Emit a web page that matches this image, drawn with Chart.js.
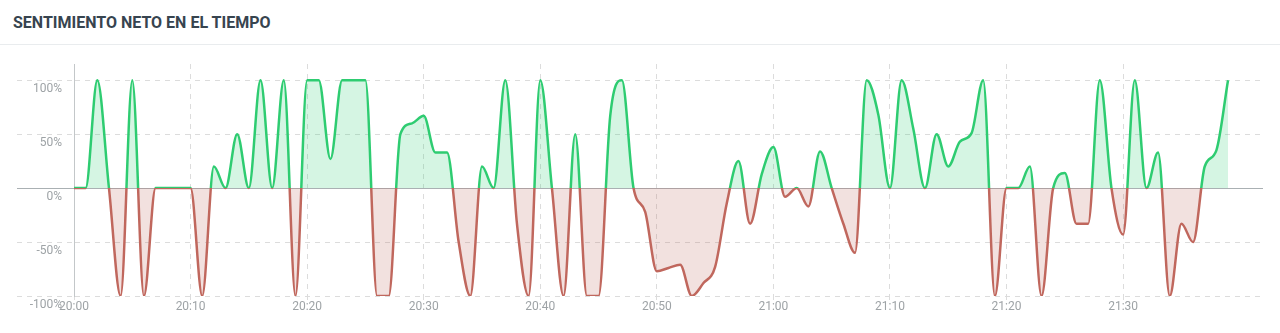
<!DOCTYPE html>
<html lang="es">
<head>
<meta charset="utf-8">
<title>Sentimiento neto en el tiempo</title>
<script src="https://cdn.jsdelivr.net/npm/chart.js@4"></script>
<style>
  html, body { margin: 0; padding: 0; background: #fff; }
  body { width: 1280px; height: 333px; overflow: hidden; position: relative; font-family: Roboto, sans-serif; }
  .cabecera {
    height: 44px; border-bottom: 1px solid #e9ecee; box-sizing: content-box;
    padding-left: 13px; display: flex; align-items: center;
  }
  .cabecera h2 { margin: 0; font-size: 16px; font-weight: 700; color: #37444f; letter-spacing: 0; }
  .lienzo { position: absolute; left: 0; top: 45px; width: 1280px; height: 288px; }
</style>
</head>
<body>
<div class="cabecera"><h2>SENTIMIENTO NETO EN EL TIEMPO</h2></div>
<div class="lienzo"><canvas id="Grafico"></canvas></div>
<script>
//Hora de inicio de la serie (un valor por minuto)
const horaInicio = '20:00';

//Sentimiento neto por minuto, en %
const sentimiento = [
  0, 0, 100, 0, -100, 100, -100, 0, 0, 0,
  0, -100, 20, 0, 50, 0, 100, 0, 100, -100,
  100, 100, 27, 100, 100, 100, -100, -100, 50, 60,
  67, 33, 33, -50, -100, 20, 0, 100, -33, -100,
  100, 0, -100, 50, -100, -100, 67, 100, 0, -22,
  -77, -74, -71, -100, -88, -73, -14, 25, -33, 13,
  38, -8, 0, -17, 34, 0, -33, -60, 100, 68,
  0, 100, 55, 0, 50, 20, 43, 51, 100, -100,
  0, 0, 20, -100, 0, 14, -33, -33, 100, 0,
  -43, 100, 0, 33, -100, -33, -50, 20, 35, 100
];

//Etiquetas del eje X y del eje Y
const etiquetasX = ['20:00', '20:10', '20:20', '20:30', '20:40', '20:50', '21:00', '21:10', '21:20', '21:30'];
const etiquetasY = [-100, -50, 0, 50, 100];
const finEje = '21:42';

//Colores
const verde = '#2ecc71';
const rojo = '#c0675d';
const verdeClaro = 'rgba(46, 204, 113, 0.2)';
const rojoClaro = 'rgba(192, 103, 93, 0.2)';
const gris = '#aab0b3';
const grisClaro = '#dcdcdc';

//Pasar "hh:mm" a minutos desde la hora de inicio
function minutos(hora) {
  const [h, m] = hora.split(':').map(Number);
  const [h0, m0] = horaInicio.split(':').map(Number);
  return (h - h0) * 60 + (m - m0);
}

function hora(min) {
  const [h0, m0] = horaInicio.split(':').map(Number);
  const total = h0 * 60 + m0 + min;
  return Math.floor(total / 60) + ':' + String(total % 60).padStart(2, '0');
}

const puntos = sentimiento.map((v, i) => ({ x: i, y: v }));

//Color de la línea: verde arriba del cero, rojo abajo
function colorLinea(ctx) {
  const chart = ctx.chart;
  const area = chart.chartArea;
  if (!area) return verde;
  const y0 = chart.scales.y.getPixelForValue(0);
  const corte = Math.min(Math.max((y0 - area.top) / (area.bottom - area.top), 0), 1);
  const g = chart.ctx.createLinearGradient(0, area.top, 0, area.bottom);
  g.addColorStop(0, verde);
  g.addColorStop(corte, verde);
  g.addColorStop(corte, rojo);
  g.addColorStop(1, rojo);
  return g;
}

const esCero = ctx => ctx.tick && ctx.tick.value === 0;

Chart.defaults.font.family = 'Roboto';
Chart.defaults.font.size = 12;
Chart.defaults.color = '#9ea3a6';

const contexto = document.getElementById('Grafico').getContext('2d');
const Grafico = new Chart(contexto, {
  type: 'line',
  data: {
    datasets: [{
      label: 'Sentimiento neto',
      data: puntos,
      borderColor: colorLinea,
      borderWidth: 2.5,
      pointRadius: 0,
      cubicInterpolationMode: 'monotone',
      fill: { target: { value: 0 }, above: verdeClaro, below: rojoClaro }
    }]
  },
  options: {
    responsive: true,
    maintainAspectRatio: false,
    animation: false,
    layout: { padding: { top: 19, right: 17, left: 0, bottom: 0 } },
    plugins: {
      legend: { display: false },
      tooltip: { enabled: false }
    },
    scales: {
      x: {
        type: 'linear',
        min: 0,
        max: minutos(finEje),
        afterBuildTicks: scale => { scale.ticks = etiquetasX.map(t => ({ value: minutos(t) })); },
        afterFit: scale => { scale.height = 37; },
        ticks: { padding: 0, maxRotation: 0, callback: v => hora(v) },
        grid: { color: grisClaro, tickColor: grisClaro, tickLength: 4, tickBorderDash: [5, 5] },
        border: { display: false, dash: [5, 5] }
      },
      y: {
        min: -100,
        max: 115,
        afterBuildTicks: scale => { scale.ticks = etiquetasY.map(v => ({ value: v })); },
        afterFit: scale => { scale.width = 74; },
        ticks: { padding: -45, labelOffset: 9, callback: v => v + '%' },
        grid: {
          color: ctx => esCero(ctx) ? gris : grisClaro,
          tickColor: ctx => esCero(ctx) ? gris : grisClaro,
          tickLength: 57,
          tickBorderDash: ctx => esCero(ctx) ? [] : [5, 5]
        },
        border: { display: true, color: '#c3c7c9', dash: ctx => esCero(ctx) ? [] : [5, 5] }
      }
    }
  }
});
</script>
</body>
</html>
